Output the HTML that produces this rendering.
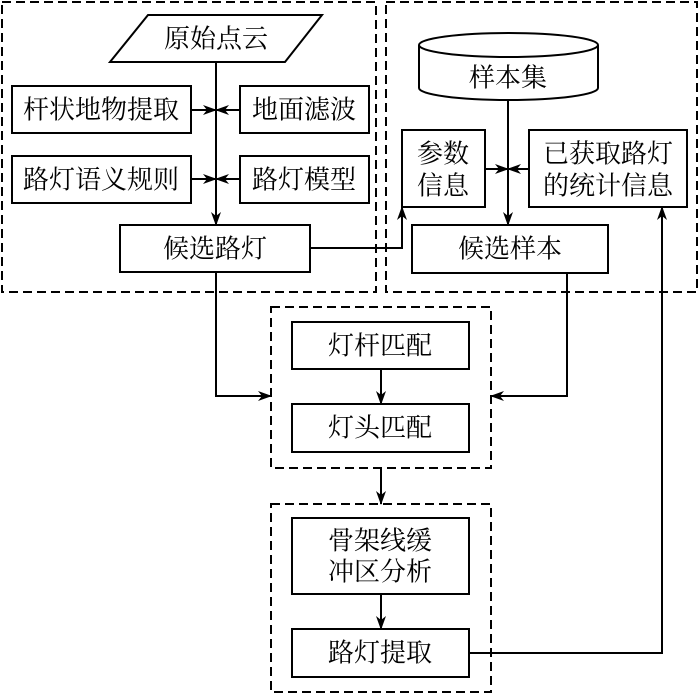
<!DOCTYPE html>
<html><head><meta charset="utf-8"><style>
html,body{margin:0;padding:0;background:#fff}
svg text{font-family:"Liberation Serif","Noto Serif CJK SC",serif;font-size:26px;fill:#000;text-anchor:middle;dominant-baseline:central}
</style></head><body>
<svg width="700" height="693" viewBox="0 0 700 693" xmlns="http://www.w3.org/2000/svg">
<defs><marker id="a" markerWidth="14" markerHeight="10" refX="13" refY="5" orient="auto" markerUnits="userSpaceOnUse"><path d="M0,0 L14,5 L0,10 L4,5 Z" fill="#000"/></marker></defs>
<g fill="none" stroke="#000" stroke-width="2" stroke-dasharray="9,5">
<rect x="2" y="2" width="374" height="290"/>
<rect x="386" y="2" width="311" height="290"/>
<rect x="271" y="307" width="220" height="161"/>
<rect x="271" y="504" width="220" height="188"/>
</g>
<g fill="#fff" stroke="#000" stroke-width="2">
<polygon points="148,15 322,15 285,62 110,62"/>
<rect x="12" y="86" width="179" height="47"/>
<rect x="240" y="86" width="129" height="47"/>
<rect x="12" y="156" width="179" height="47"/>
<rect x="240" y="156" width="129" height="47"/>
<rect x="120" y="225" width="190" height="47"/>
<path d="M419,45 L419,88 A89.5,12 0 0 0 598,88 L598,45"/>
<ellipse cx="508.5" cy="45" rx="89.5" ry="12"/>
<rect x="402" y="130" width="83" height="77"/>
<rect x="529" y="130" width="158" height="77"/>
<rect x="412" y="225" width="196" height="48"/>
<rect x="292" y="322" width="177" height="47"/>
<rect x="292" y="404" width="177" height="48"/>
<rect x="292" y="518" width="177" height="76"/>
<rect x="292" y="629" width="177" height="48"/>
</g>
<g fill="none" stroke="#000" stroke-width="2" marker-end="url(#a)">
<line x1="216" y1="62" x2="216" y2="225"/>
<line x1="191" y1="110" x2="216" y2="110"/>
<line x1="240" y1="110" x2="216" y2="110"/>
<line x1="191" y1="179" x2="216" y2="179"/>
<line x1="240" y1="179" x2="216" y2="179"/>
<polyline points="310,248 402,248 402,207"/>
<line x1="508" y1="100" x2="508" y2="225"/>
<line x1="485" y1="169" x2="508" y2="169"/>
<line x1="529" y1="169" x2="508" y2="169"/>
<polyline points="216,272 216,396 271,396"/>
<polyline points="567,273 567,396 491,396"/>
<line x1="381" y1="369" x2="381" y2="404"/>
<line x1="381" y1="468" x2="381" y2="504"/>
<line x1="381" y1="594" x2="381" y2="629"/>
<polyline points="469,653 662,653 662,207"/>
</g>
<text x="216" y="39">原始点云</text>
<text x="101" y="110">杆状地物提取</text>
<text x="304" y="110">地面滤波</text>
<text x="101" y="180">路灯语义规则</text>
<text x="304" y="180">路灯模型</text>
<text x="215" y="249">候选路灯</text>
<text x="508" y="78">样本集</text>
<text x="443" y="154">参数</text>
<text x="443" y="186">信息</text>
<text x="608" y="154">已获取路灯</text>
<text x="608" y="186">的统计信息</text>
<text x="510" y="249">候选样本</text>
<text x="380" y="346">灯杆匹配</text>
<text x="380" y="428">灯头匹配</text>
<text x="380" y="541">骨架线缓</text>
<text x="380" y="572">冲区分析</text>
<text x="380" y="653">路灯提取</text>
</svg>
</body></html>
